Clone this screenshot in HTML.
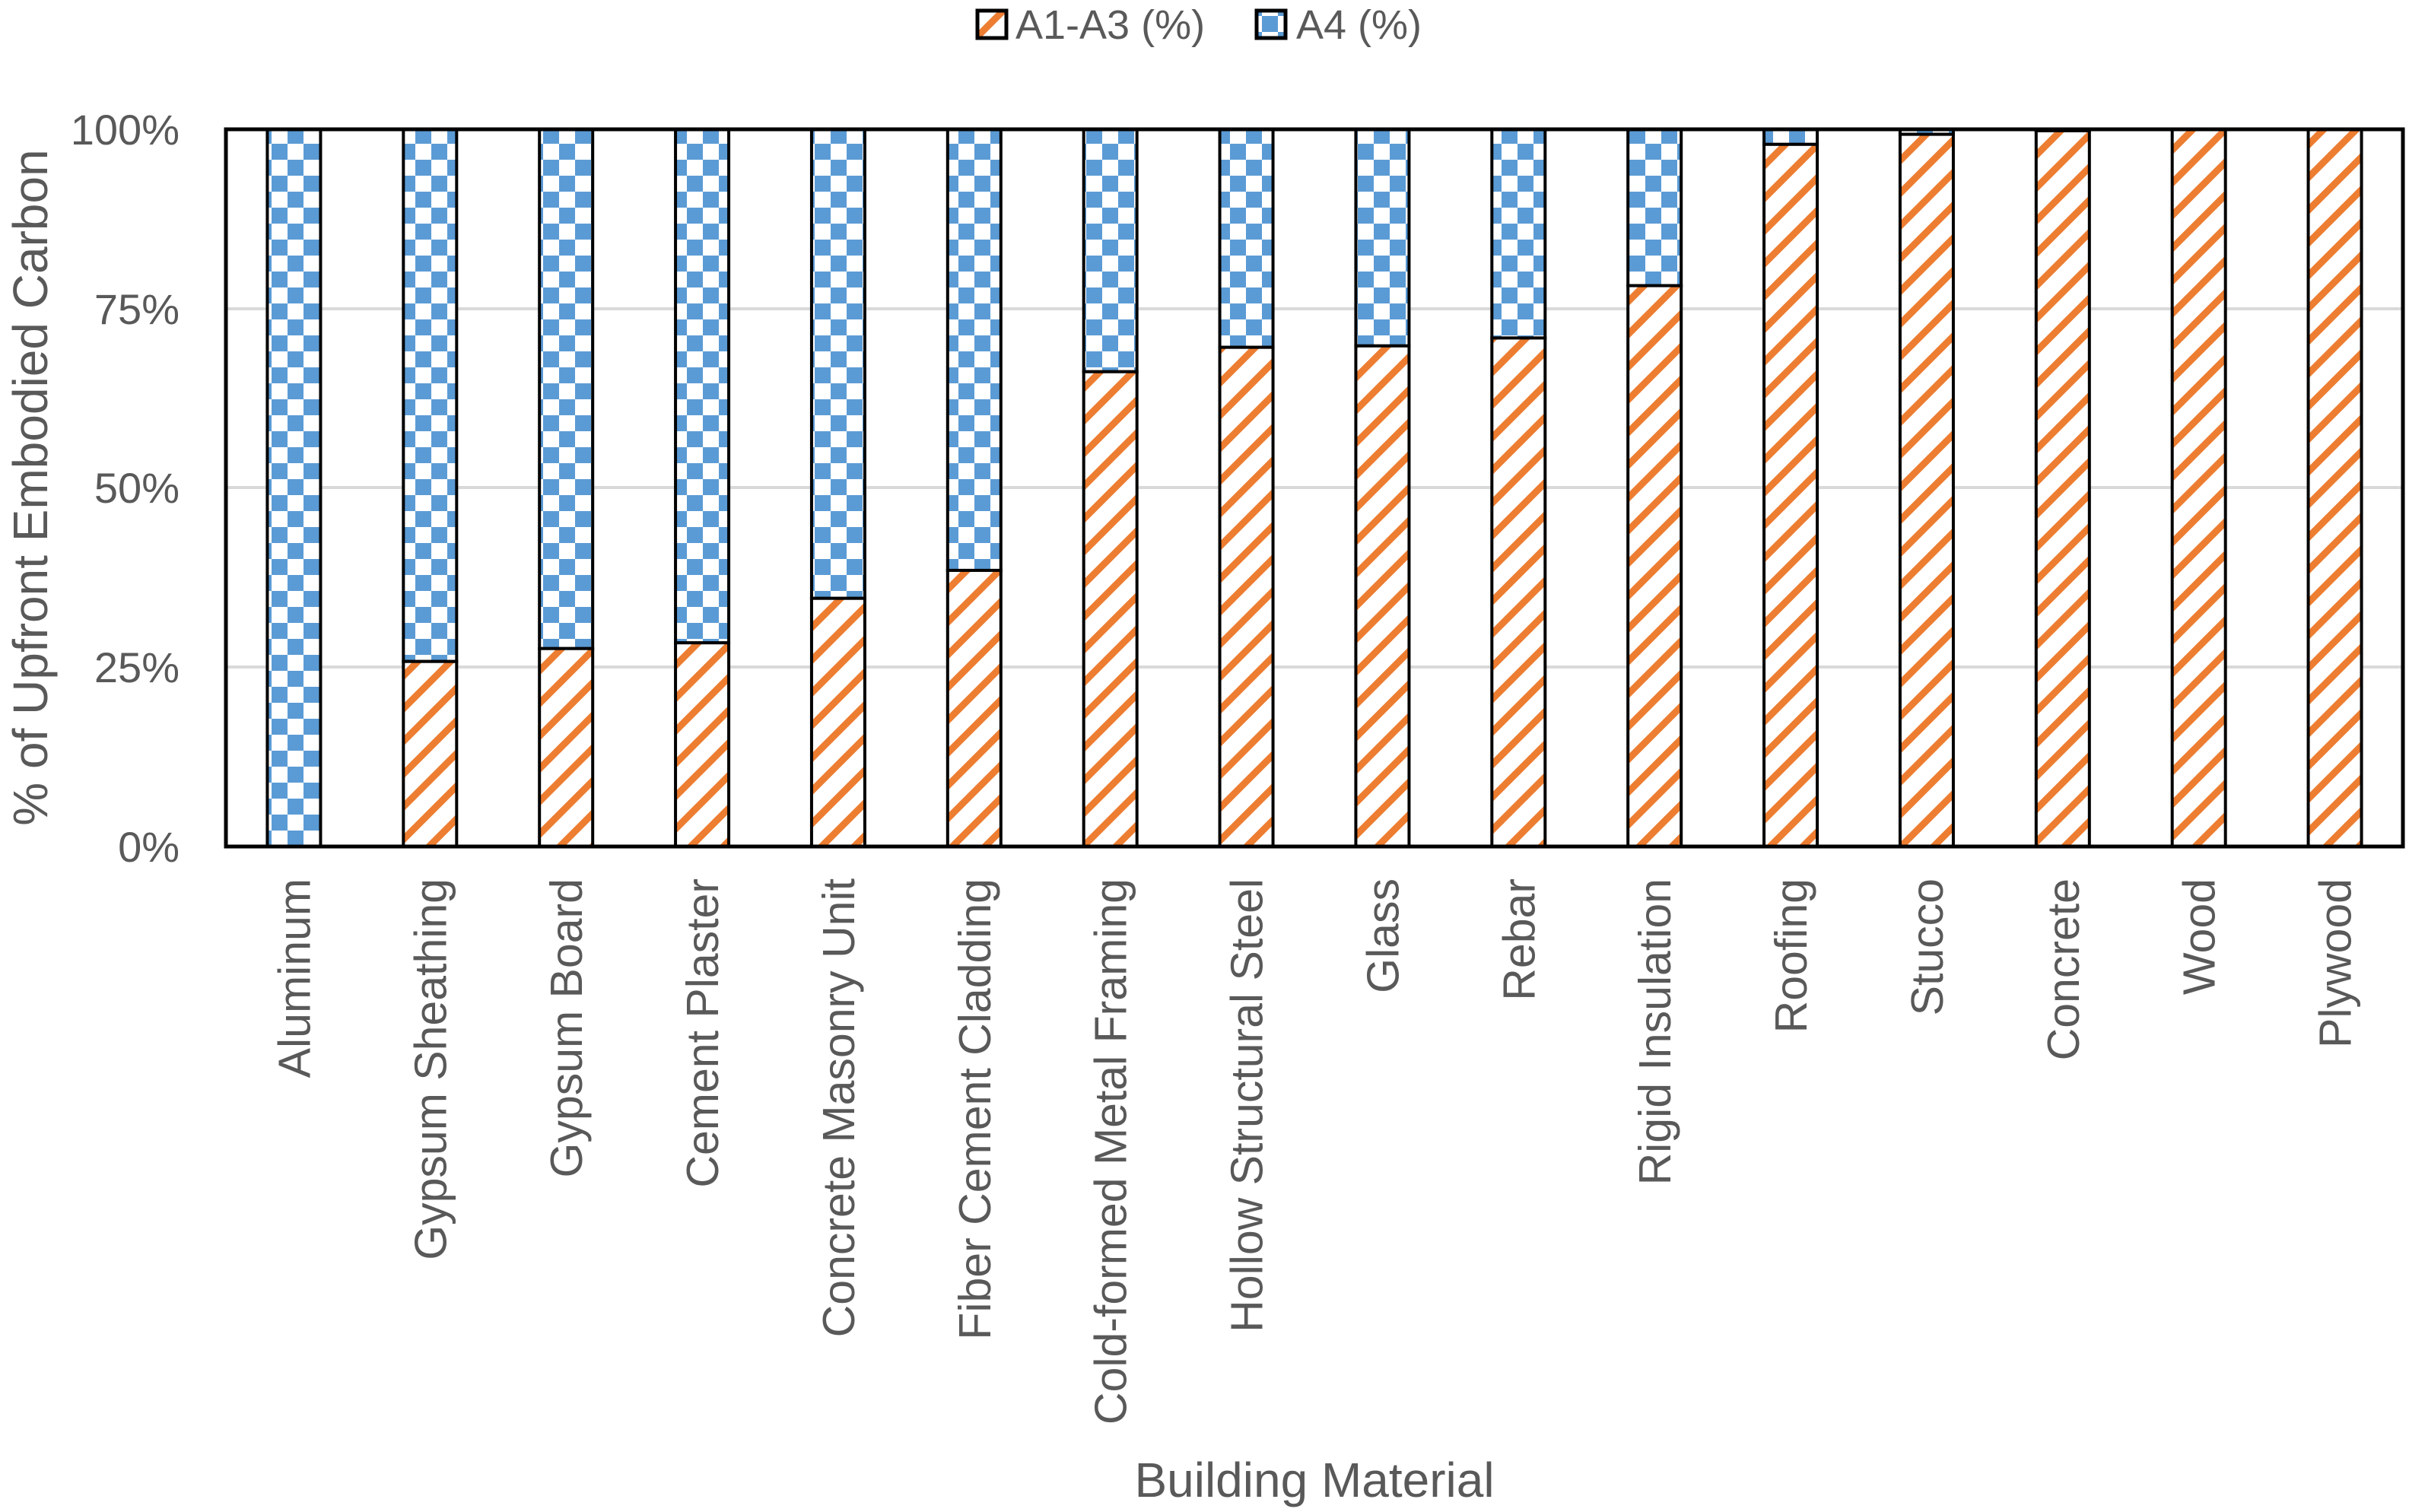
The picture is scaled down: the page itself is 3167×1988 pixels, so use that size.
<!DOCTYPE html>
<html><head><meta charset="utf-8"><style>html,body{margin:0;padding:0;background:#fff}svg{display:block}</style></head>
<body>
<svg xmlns="http://www.w3.org/2000/svg" width="3167" height="1988" viewBox="0 0 3167 1988">
<defs>
<pattern id="chk" patternUnits="userSpaceOnUse" width="42" height="42" x="0" y="0">
<rect width="42" height="42" fill="#fff"/>
<rect x="0" y="0" width="21" height="21" fill="#5B9BD5"/>
<rect x="21" y="21" width="21" height="21" fill="#5B9BD5"/>
</pattern>
<pattern id="str" patternUnits="userSpaceOnUse" width="43" height="43">
<rect width="43" height="43" fill="#fff"/>
<path d="M-10,53 L53,-10 M-10,10 L10,-10 M33,53 L53,33" stroke="#ED7D31" stroke-width="9"/>
</pattern>
</defs>
<g font-family="'Liberation Sans', sans-serif" fill="#595959">
<rect x="1285" y="14" width="38" height="36" fill="url(#str)" stroke="#000" stroke-width="5"/>
<text x="1335" y="51" font-size="54">A1-A3 (%)</text>
<rect x="1652" y="14" width="38" height="36" fill="url(#chk)" stroke="#000" stroke-width="5"/>
<text x="1704" y="51" font-size="54">A4 (%)</text>
<g stroke="#d9d9d9" stroke-width="4">
<line x1="297" x2="3159" y1="406" y2="406"/>
<line x1="297" x2="3159" y1="641" y2="641"/>
<line x1="297" x2="3159" y1="877" y2="877"/>
</g>
<g font-size="56" text-anchor="end">
<text x="236" y="190">100%</text>
<text x="236" y="426">75%</text>
<text x="236" y="661">50%</text>
<text x="236" y="897">25%</text>
<text x="236" y="1133">0%</text>
</g>
<text transform="translate(62,641) rotate(-90)" font-size="64" text-anchor="middle">% of Upfront Embodied Carbon</text>
<text x="1728" y="1968" font-size="64" text-anchor="middle">Building Material</text>
<g id="bars" stroke="#000" stroke-width="4"></g>
<g id="labels" font-size="59" text-anchor="end"></g>
<rect x="297" y="170" width="2862" height="943" fill="none" stroke="#000" stroke-width="5"/>
</g>
<script>
var names=["Aluminum","Gypsum Sheathing","Gypsum Board","Cement Plaster","Concrete Masonry Unit","Fiber Cement Cladding","Cold-formed Metal Framing","Hollow Structural Steel","Glass","Rebar","Rigid Insulation","Roofing","Stucco","Concrete","Wood","Plywood"];
var vals=[0,25.8,27.6,28.4,34.6,38.5,66.2,69.6,69.8,70.9,78.2,97.9,99.3,99.8,100,100];
var L=297,R=3159,T=170,B=1113,H=B-T,step=(R-L)/16,bw=70;
var ns="http://www.w3.org/2000/svg";
var bg=document.getElementById("bars"),lg=document.getElementById("labels");
for(var i=0;i<16;i++){
 var cx=L+step*(i+0.5),x=cx-bw/2,ya=B-H*vals[i]/100;
 if(vals[i]<100){var r=document.createElementNS(ns,"rect");r.setAttribute("x",x);r.setAttribute("y",T);r.setAttribute("width",bw);r.setAttribute("height",ya-T);r.setAttribute("fill","url(#chk)");bg.appendChild(r);}
 if(vals[i]>0){var r2=document.createElementNS(ns,"rect");r2.setAttribute("x",x);r2.setAttribute("y",ya);r2.setAttribute("width",bw);r2.setAttribute("height",B-ya);r2.setAttribute("fill","url(#str)");bg.appendChild(r2);}
 var t=document.createElementNS(ns,"text");t.setAttribute("transform","translate("+(cx+21)+",1155) rotate(-90)");t.textContent=names[i];lg.appendChild(t);
}
</script>
</svg>
</body></html>
